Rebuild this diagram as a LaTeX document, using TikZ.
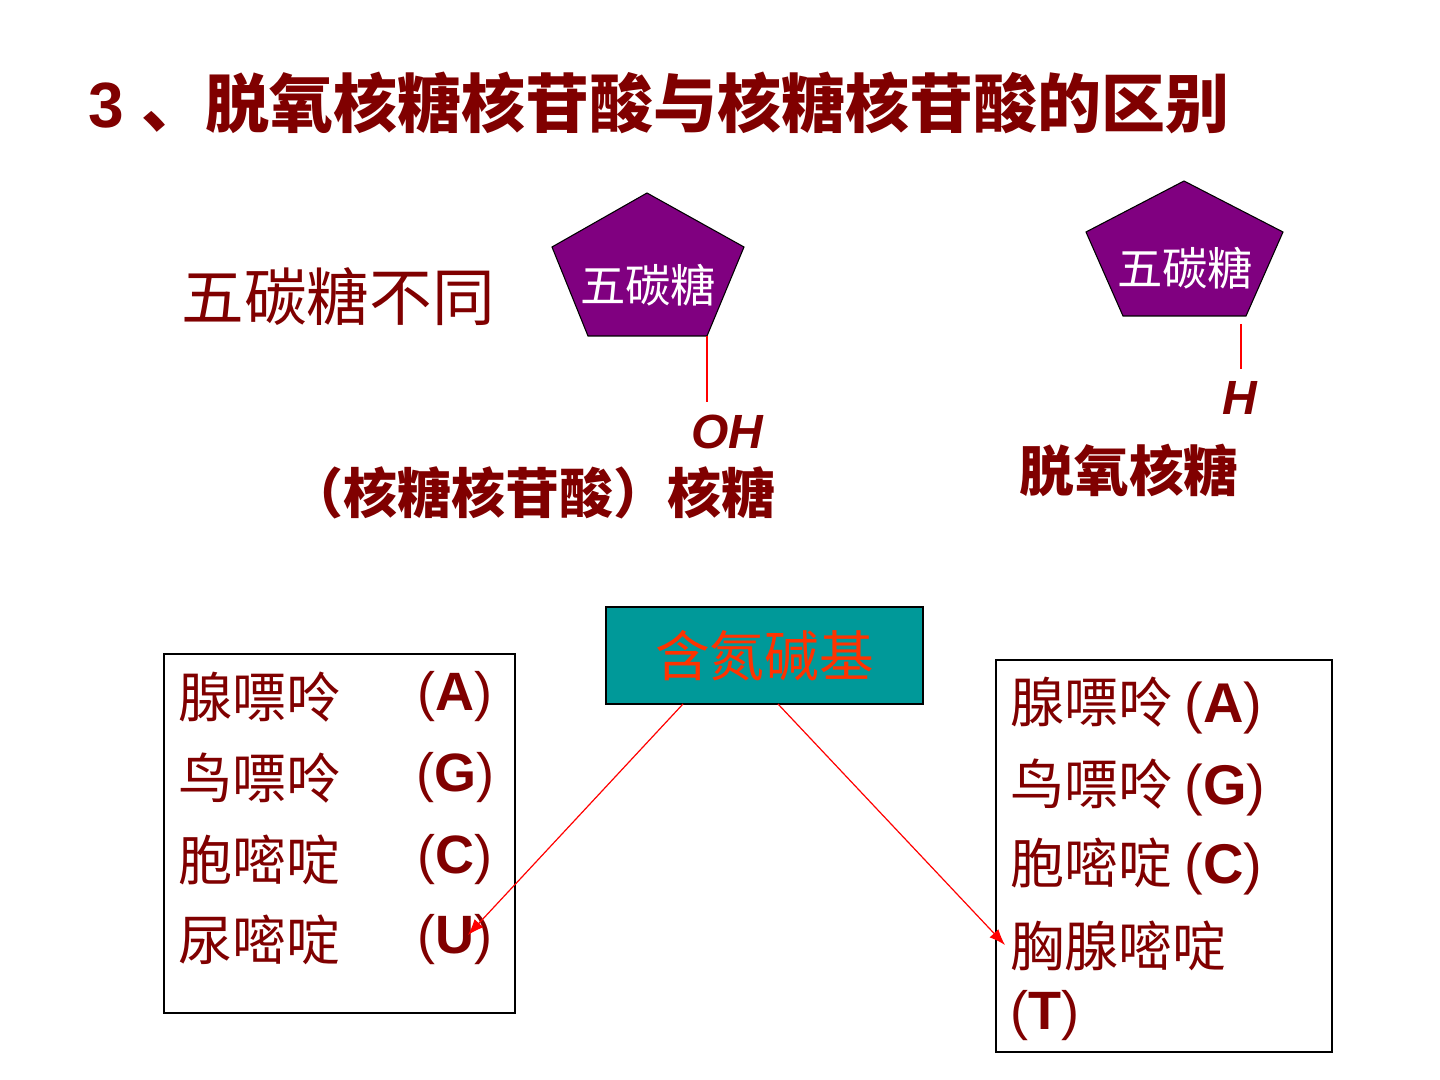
\documentclass[tikz,border=0pt]{standalone}
\usepackage{fontspec}
\setmainfont{Liberation Sans}
\newfontfamily\cjk{Noto Sans CJK SC}
\usetikzlibrary{arrows.meta}
\definecolor{maroon}{RGB}{128,0,0}
\definecolor{sugar}{RGB}{128,0,128}
\definecolor{tealbox}{RGB}{0,153,153}
\definecolor{basered}{RGB}{255,51,0}
\tikzset{
  hd/.style={inner sep=0pt, text=maroon},
  sugarname/.style={inner sep=0pt, text=white, font=\cjk\fontsize{34}{40}\selectfont},
  row/.style={inner sep=0pt, anchor=west, text=maroon, font=\cjk\fontsize{40.5}{48}\selectfont},
  letter/.style={inner sep=0pt, text=maroon, font=\fontsize{40.5}{48}\selectfont},
  bond/.style={red, line width=0.9pt},
  pointer/.style={red, line width=0.9pt, -{Latex[length=12pt,width=9pt]}},
}
\newcommand{\lett}[1]{(\textbf{#1})}
\begin{document}
\begin{tikzpicture}[x=0.75pt,y=-0.75pt]
  \useasboundingbox[fill=white] (0,0) rectangle (1440,1080);
  % 标题
  \node[hd, anchor=west] (title) at (88,103)
    {\fontsize{48}{56}\selectfont\bfseries 3 {\cjk 、脱氧核糖核苷酸与核糖核苷酸的区别}};
  \node[hd] (diff) at (338,297) {\cjk\fontsize{47}{56}\selectfont 五碳糖不同};
  % 左五碳糖（核糖）
  \coordinate (lbr) at (707,336);
  \draw[fill=sugar, line width=0.8pt] (647,193) -- (744,247) -- (lbr) -- (588,336) -- (552,247) -- cycle;
  \node[sugarname] (lsugar) at (648,285) {五碳糖};
  \node[hd, font=\fontsize{36}{42}\selectfont\bfseries\itshape] (oh) at (727,432) {OH};
  \draw[bond] (lbr) -- (707,402);
  \node[hd, font=\cjk\fontsize{40.5}{48}\selectfont\bfseries] (ribose) at (532,493) {（核糖核苷酸）核糖};
  % 右五碳糖（脱氧核糖）
  \coordinate (rbr) at (1241,324);
  \draw[fill=sugar, line width=0.8pt] (1184,181) -- (1283,232) -- (1246,316) -- (1123,316) -- (1086,232) -- cycle;
  \node[sugarname] (rsugar) at (1185,268) {五碳糖};
  \node[hd, font=\fontsize{36}{42}\selectfont\bfseries\itshape] (h) at (1240,398) {H};
  \draw[bond] (rbr) -- (1241,369);
  \node[hd, font=\cjk\fontsize{41}{48}\selectfont\bfseries] (deoxy) at (1129,470) {脱氧核糖};
  % 含氮碱基
  \node[draw=black, line width=0.8pt, fill=tealbox, text=basered, minimum width=237.75pt,
        minimum height=72.75pt, inner sep=0pt, font=\cjk\fontsize{41}{48}\selectfont]
        (base) at (764.5,655.5) {含氮碱基};
  % 左框：核糖核苷酸的碱基
  \draw[line width=0.8pt] (164,654) rectangle (515,1013);
  \node[row] (la) at (178,697) {腺嘌呤};
  \node[row] (lg) at (178,778) {鸟嘌呤};
  \node[row] (lc) at (178,860) {胞嘧啶};
  \node[row] (lu) at (178,940) {尿嘧啶};
  \node[letter] (la2) at (455,697) {\lett{A}};
  \node[letter] (lg2) at (455,778) {\lett{G}};
  \node[letter] (lc2) at (455,860) {\lett{C}};
  \node[letter] (lu2) at (455,940) {\lett{U}};
  % 右框：脱氧核糖核苷酸的碱基
  \draw[line width=0.8pt] (996,660) rectangle (1332,1052);
  \node[row] (ra) at (1010,706) {腺嘌呤 {\rmfamily\fontsize{42}{48}\selectfont\lett{A}}};
  \node[row] (rg) at (1010,788) {鸟嘌呤 {\rmfamily\fontsize{42}{48}\selectfont\lett{G}}};
  \node[row] (rc) at (1010,866) {胞嘧啶 {\rmfamily\fontsize{42}{48}\selectfont\lett{C}}};
  \node[row] (rt) at (1010,946) {胸腺嘧啶};
  \node[letter, anchor=west] (rt2) at (1010,1016) {\lett{T}};
  % 箭头
  \coordinate (lstart) at (683,704);
  \coordinate (lend) at (468,935);
  \coordinate (rstart) at (778,704);
  \coordinate (rend) at (1005,945);
  \draw[pointer] (lstart) -- (lend);
  \draw[pointer] (rstart) -- (rend);
\end{tikzpicture}
\end{document}
